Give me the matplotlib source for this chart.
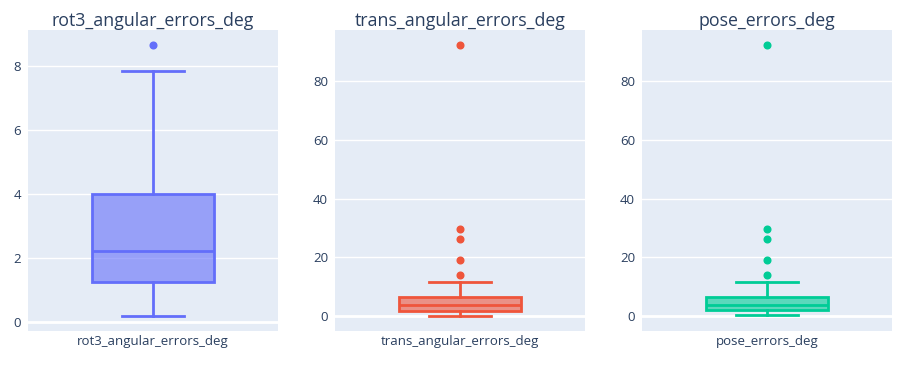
import matplotlib
matplotlib.use("Agg")
import matplotlib.pyplot as plt
from matplotlib.colors import to_rgba

# === Box statistics ===
names = ["rot3_angular_errors_deg", "trans_angular_errors_deg", "pose_errors_deg"]
colors = ["#636efa", "#EF553B", "#00cc96"]

q1 = [1.26, 1.6, 2.0]
medians = [2.24, 3.6, 3.8]
q3 = [4.01, 6.5, 6.6]
whisk_lo = [0.21, 0.1, 0.2]
whisk_hi = [7.85, 11.5, 11.6]
outliers = [
    [8.67],
    [92.4, 29.7, 26.4, 19.0, 13.9],
    [92.4, 29.7, 26.4, 19.0, 13.9],
]

y_ticks = [[0, 2, 4, 6, 8], [0, 20, 40, 60, 80], [0, 20, 40, 60, 80]]
y_limits = [(-0.27, 9.13), (-5.1, 97.5), (-5.1, 97.5)]

TEXT = "#2a3f5f"
BG = "#E5ECF6"
plt.rcParams["font.family"] = ["Open Sans", "DejaVu Sans"]

W, H = 919, 368
fig = plt.figure(figsize=(W / 100, H / 100), dpi=100)
lefts = [28, 335, 642]

for i in range(3):
    ax = fig.add_axes([lefts[i] / W, (H - 331) / H, 250 / W, 301 / H])
    ax.set_facecolor(BG)
    for s in ax.spines.values():
        s.set_visible(False)

    c = colors[i]
    stats = [{
        "med": medians[i], "q1": q1[i], "q3": q3[i],
        "whislo": whisk_lo[i], "whishi": whisk_hi[i],
        "fliers": outliers[i], "label": names[i],
    }]
    ax.bxp(stats, positions=[0], widths=0.49, capwidths=0.245,
           patch_artist=True, showfliers=True,
           boxprops=dict(facecolor=to_rgba(c, 0.6), edgecolor=c, linewidth=2),
           medianprops=dict(color=c, linewidth=2),
           whiskerprops=dict(color=c, linewidth=2),
           capprops=dict(color=c, linewidth=2),
           flierprops=dict(marker="o", markerfacecolor=c, markeredgecolor=c,
                           markersize=4.8, linestyle="none"),
           zorder=3)

    ax.set_xlim(-0.5, 0.5)
    ax.set_ylim(*y_limits[i])
    ax.set_yticks(y_ticks[i])
    ax.grid(axis="y", color="white", linewidth=1, zorder=0)
    ax.set_axisbelow(True)
    ax.axhline(0, color="white", linewidth=2, zorder=1)

    ax.tick_params(axis="both", length=0, labelsize=9.5, labelcolor=TEXT)
    ax.tick_params(axis="y", pad=5)
    ax.tick_params(axis="x", pad=3)
    ax.set_xticks([0])
    ax.set_xticklabels([names[i]])
    ax.set_title(names[i], fontsize=12.8, color=TEXT, pad=3)

fig.savefig("out.png", dpi=100, facecolor="white")
